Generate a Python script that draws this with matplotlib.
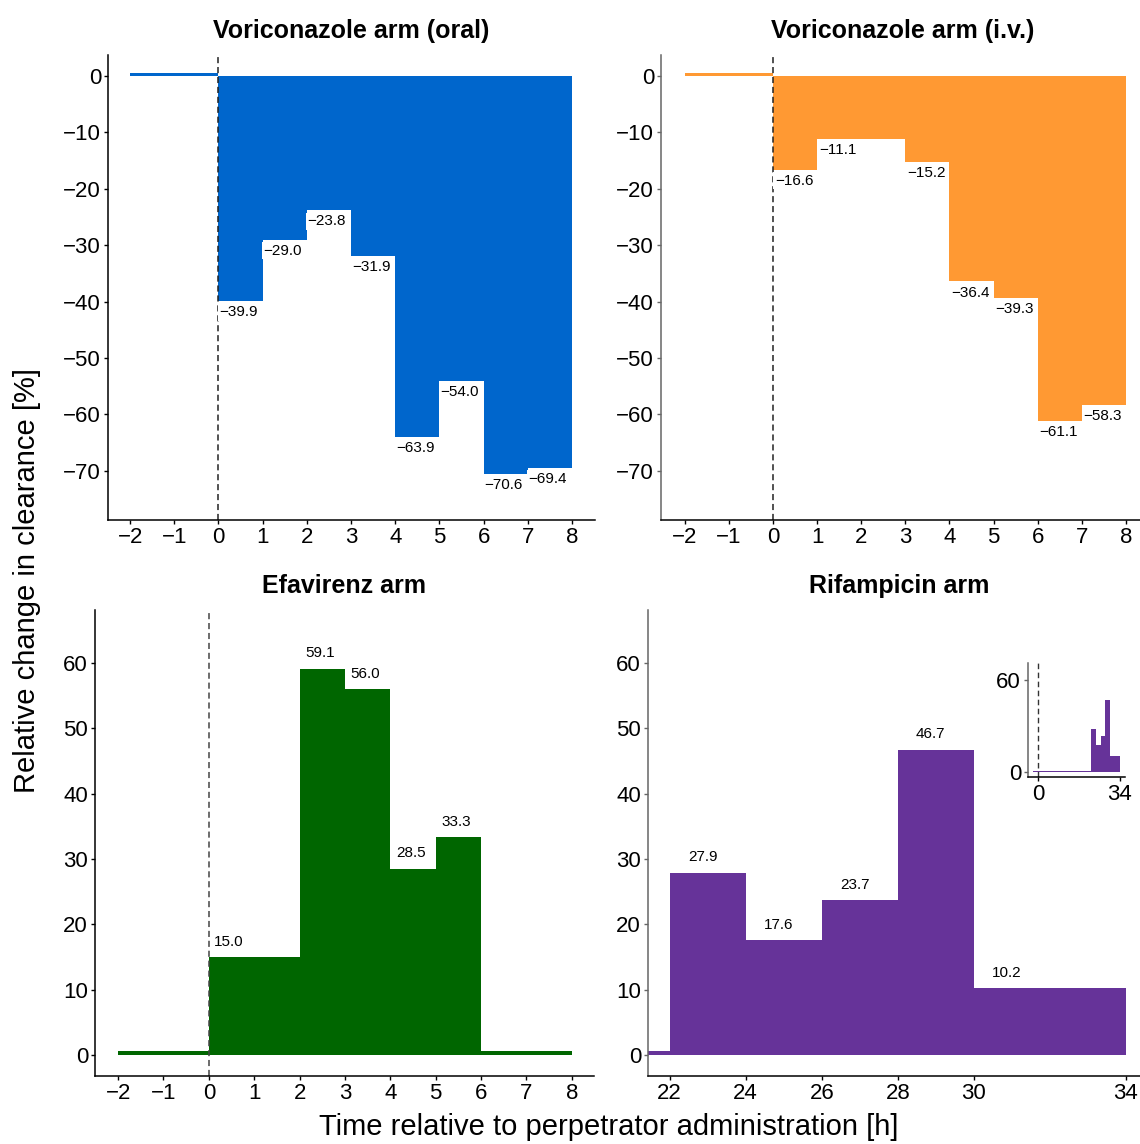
import matplotlib
matplotlib.use("Agg")
import matplotlib.pyplot as plt

plt.rcParams['font.family'] = ['Liberation Sans', 'DejaVu Sans']

# time bins (left edge, right edge) and relative change in clearance [%]
oral_left = [0, 1, 2, 3, 4, 5, 6, 7]
oral_right = [1, 2, 3, 4, 5, 6, 7, 8]
oral_vals = [-39.9, -29.0, -23.8, -31.9, -63.9, -54.0, -70.6, -69.4]

iv_left = [0, 1, 3, 4, 5, 6, 7]
iv_right = [1, 3, 4, 5, 6, 7, 8]
iv_vals = [-16.6, -11.1, -15.2, -36.4, -39.3, -61.1, -58.3]

efv_left = [0, 2, 3, 4, 5]
efv_right = [2, 3, 4, 5, 6]
efv_vals = [15.0, 59.1, 56.0, 28.5, 33.3]

rif_left = [22, 24, 26, 28, 30]
rif_right = [24, 26, 28, 30, 34]
rif_vals = [27.9, 17.6, 23.7, 46.7, 10.2]

# pre-/post-dose periods without change
oral_base = [(-2, 0)]
iv_base = [(-2, 0)]
efv_base = [(-2, 0), (6, 8)]
rif_base = [(-2, 22)]

c_oral = '#0066CC'
c_iv = '#FF9933'
c_efv = '#006600'
c_rif = '#663399'

W, H = 1140, 1144
fig = plt.figure(figsize=(W / 100, H / 100), dpi=100)


def px_axes(x0, y0, x1, y1):
    return fig.add_axes([x0 / W, 1 - y1 / H, (x1 - x0) / W, (y1 - y0) / H])


def minus(ticks):
    return [str(t).replace('-', '\u2212') for t in ticks]


def style(ax, spine_col='black', size=16):
    for s in ['top', 'right']:
        ax.spines[s].set_visible(False)
    ax.spines['left'].set_color(spine_col)
    ax.spines['bottom'].set_color('black')
    ax.spines['left'].set_linewidth(1.1)
    ax.spines['bottom'].set_linewidth(1.1)
    ax.tick_params(axis='both', direction='out', length=3, width=1, pad=2,
                   labelsize=size, colors='black')
    ax.tick_params(axis='y', color=spine_col)


def draw(ax, left, right, vals, base, col, bh):
    widths = [r - l for l, r in zip(left, right)]
    ax.bar(left, vals, width=widths, align='edge', color=col, linewidth=0)
    for b0, b1 in base:
        ax.bar(b0, bh, width=b1 - b0, align='edge', color=col, linewidth=0)


def neg_labels(ax, left, vals, dx):
    for l, v in zip(left, vals):
        ax.annotate(f'{v:.1f}'.replace('-', '\u2212'), (l + dx, v), xytext=(0, -3),
                    textcoords='offset points', ha='left', va='top', fontsize=11,
                    bbox=dict(boxstyle='square,pad=0.1', fc='white', ec='none'))


def pos_labels(ax, left, vals, dx, dy):
    for l, v in zip(left, vals):
        ax.text(l + dx, v + dy, f'{v:.1f}', ha='left', va='bottom', fontsize=11)


title_kw = dict(fontsize=18, fontweight='bold', pad=12)

# --- Voriconazole oral
ax1 = px_axes(108, 55, 595, 520)
draw(ax1, oral_left, oral_right, oral_vals, oral_base, c_oral, 0.6)
ax1.axvline(0, color='#222222', ls=(0, (4, 2.5)), lw=1.1)
neg_labels(ax1, oral_left, oral_vals, 0.02)
ax1.set_xlim(-2.5, 8.52)
ax1.set_ylim(-78.7, 3.72)
ax1.set_xticks(range(-2, 9))
ax1.set_xticklabels(minus(range(-2, 9)))
ax1.set_yticks(range(-70, 1, 10))
ax1.set_yticklabels(minus(range(-70, 1, 10)))
ax1.set_title('Voriconazole arm (oral)', **title_kw)
style(ax1)

# --- Voriconazole iv
ax2 = px_axes(661, 55, 1140, 520)
draw(ax2, iv_left, iv_right, iv_vals, iv_base, c_iv, 0.6)
ax2.axvline(0, color='#222222', ls=(0, (4, 2.5)), lw=1.1)
neg_labels(ax2, iv_left, iv_vals, 0.04)
ax2.set_xlim(-2.54, 8.32)
ax2.set_ylim(-78.7, 3.72)
ax2.set_xticks(range(-2, 9))
ax2.set_xticklabels(minus(range(-2, 9)))
ax2.set_yticks(range(-70, 1, 10))
ax2.set_yticklabels(minus(range(-70, 1, 10)))
ax2.set_title('Voriconazole arm (i.v.)', **title_kw)
ax2.title.set_position((0.504, 1.0))
style(ax2, '#666666')

# --- Efavirenz
ax3 = px_axes(95, 610, 594, 1076)
draw(ax3, efv_left, efv_right, efv_vals, efv_base, c_efv, 0.6)
ax3.axvline(0, color='#444444', ls=(0, (4, 2.5)), lw=1.1)
pos_labels(ax3, efv_left, efv_vals, 0.12, 1.3)
ax3.set_xlim(-2.51, 8.49)
ax3.set_ylim(-3.2, 68.1)
ax3.set_xticks(range(-2, 9))
ax3.set_xticklabels(minus(range(-2, 9)))
ax3.set_yticks(range(0, 61, 10))
ax3.set_title('Efavirenz arm', **title_kw)
style(ax3)

# --- Rifampicin
ax4 = px_axes(648, 610, 1140, 1076)
draw(ax4, rif_left, rif_right, rif_vals, rif_base, c_rif, 0.6)
pos_labels(ax4, rif_left, rif_vals, 0.48, 1.3)
ax4.set_xlim(21.43, 34.37)
ax4.set_ylim(-3.2, 68.1)
ax4.set_xticks([22, 24, 26, 28, 30, 34])
ax4.set_yticks(range(0, 61, 10))
ax4.set_title('Rifampicin arm', **title_kw)
ax4.title.set_position((0.51, 1.0))
style(ax4, '#666666')

# inset: full time course of rifampicin arm
axi = px_axes(1028, 663, 1125, 777)
draw(axi, rif_left, rif_right, rif_vals, rif_base, c_rif, 0.6)
axi.axvline(0, color='#333333', ls=(0, (4, 2.5)), lw=1.0)
axi.set_xlim(-4.1, 36.1)
axi.set_ylim(-3.3, 71)
axi.set_xticks([0, 34])
axi.set_yticks([0, 60])
style(axi, '#666666')
axi.patch.set_alpha(0)

fig.text(0.534, 0.003, 'Time relative to perpetrator administration [h]',
         ha='center', va='bottom', fontsize=21)
fig.text(0.024, 0.493, 'Relative change in clearance [%]', rotation=90,
         ha='center', va='center', fontsize=21)

fig.savefig('out.png', dpi=100)
